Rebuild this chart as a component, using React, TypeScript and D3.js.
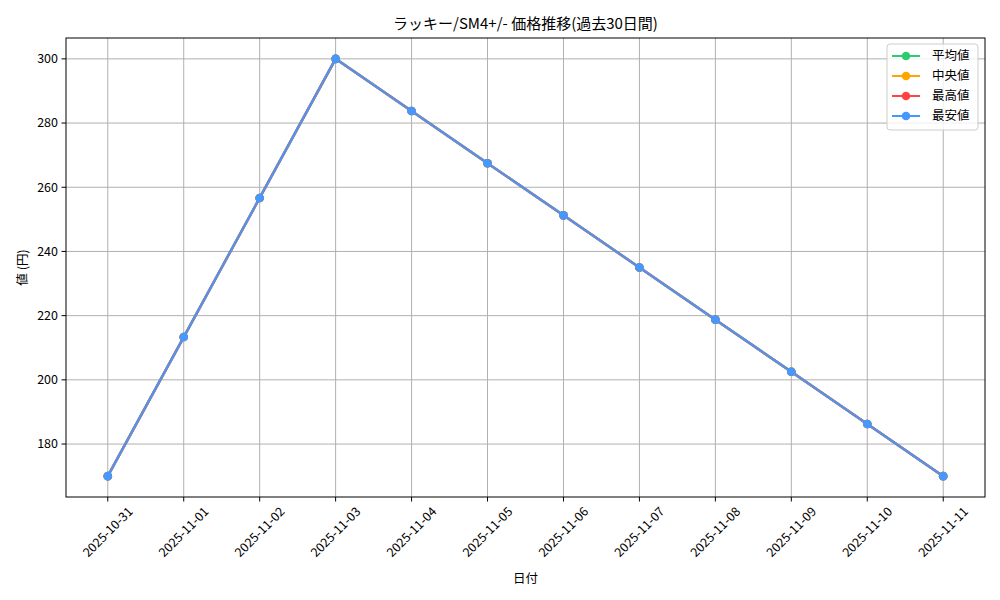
import React from 'react';
import * as d3 from 'd3';

const dates = [
  '2025-10-31', '2025-11-01', '2025-11-02', '2025-11-03', '2025-11-04', '2025-11-05',
  '2025-11-06', '2025-11-07', '2025-11-08', '2025-11-09', '2025-11-10', '2025-11-11',
];
const avgPrices = [170, 213.33, 256.67, 300, 283.75, 267.5, 251.25, 235, 218.75, 202.5, 186.25, 170];
const medianPrices = [170, 213.33, 256.67, 300, 283.75, 267.5, 251.25, 235, 218.75, 202.5, 186.25, 170];
const maxPrices = [170, 213.33, 256.67, 300, 283.75, 267.5, 251.25, 235, 218.75, 202.5, 186.25, 170];
const minPrices = [170, 213.33, 256.67, 300, 283.75, 267.5, 251.25, 235, 218.75, 202.5, 186.25, 170];
const seriesNames = ['平均値', '中央値', '最高値', '最安値'];
const seriesColors = ['#2ecc71', '#ffa500', '#ff4444', '#4499ff'];
const yTicks = [180, 200, 220, 240, 260, 280, 300];

const W = 1000;
const H = 600;
const margin = { top: 38, right: 15, bottom: 103, left: 66 };
const font = '"Noto Sans CJK JP", "DejaVu Sans", sans-serif';

export default function App() {
  const series = [avgPrices, medianPrices, maxPrices, minPrices];
  const all = series.flat();
  const lo = d3.min(all)!;
  const hi = d3.max(all)!;
  const pad = (hi - lo) * 0.05;
  const n = dates.length;

  const x = d3.scaleLinear()
    .domain([-0.55, n - 1 + 0.55])
    .range([margin.left, W - margin.right]);
  const y = d3.scaleLinear()
    .domain([lo - pad, hi + pad])
    .range([H - margin.bottom, margin.top]);

  const line = d3.line<number>()
    .x((_, i) => x(i))
    .y(d => y(d));

  const left = margin.left;
  const right = W - margin.right;
  const top = margin.top;
  const bottom = H - margin.bottom;

  return (
    <svg width={W} height={H} style={{ position: 'absolute', left: 0, top: 0, background: '#fff' }} fontFamily={font}>
      {/* grid */}
      {dates.map((_, i) => (
        <line key={'gx' + i} x1={x(i)} x2={x(i)} y1={top} y2={bottom} stroke="#b0b0b0" strokeWidth={1} />
      ))}
      {yTicks.map(t => (
        <line key={'gy' + t} x1={left} x2={right} y1={y(t)} y2={y(t)} stroke="#b0b0b0" strokeWidth={1} />
      ))}

      {/* series */}
      {series.map((vals, s) => (
        <g key={'s' + s}>
          <path d={line(vals)!} fill="none" stroke={seriesColors[s]} strokeWidth={2.4} strokeOpacity={0.9} />
          {vals.map((v, i) => (
            <circle key={i} cx={x(i)} cy={y(v)} r={4.3} fill={seriesColors[s]} />
          ))}
        </g>
      ))}

      {/* frame */}
      <rect x={left} y={top} width={right - left} height={bottom - top} fill="none" stroke="#000" strokeWidth={1} />

      {/* y ticks */}
      {yTicks.map(t => (
        <g key={'yt' + t} transform={`translate(${left},${y(t)})`}>
          <line x1={-4.5} x2={0} stroke="#000" />
          <text x={-8} dy="0.35em" textAnchor="end" fontSize={12.5} fill="#000">{t}</text>
        </g>
      ))}

      {/* x ticks */}
      {dates.map((d, i) => (
        <g key={'xt' + d} transform={`translate(${x(i)},${bottom})`}>
          <line y1={0} y2={4.5} stroke="#000" />
          <text transform="translate(0,35) rotate(-45)" textAnchor="middle" dy="0.35em" fontSize={12.5} fill="#000">{d}</text>
        </g>
      ))}

      {/* labels */}
      <text x={(left + right) / 2} y={29} textAnchor="middle" fontSize={15} fill="#000">ラッキー/SM4+/- 価格推移(過去30日間)</text>
      <text x={(left + right) / 2} y={583} textAnchor="middle" fontSize={12.5} fill="#000">日付</text>
      <text transform={`translate(27,${(top + bottom) / 2}) rotate(-90)`} textAnchor="middle" fontSize={12.5} fill="#000">値 (円)</text>

      {/* legend */}
      <g transform="translate(887,44)">
        <rect x={0} y={0} width={91} height={86} rx={3} fill="#fff" fillOpacity={0.8} stroke="#cccccc" />
        {seriesNames.map((name, i) => (
          <g key={name} transform={`translate(0,${12 + i * 20})`}>
            <line x1={5} x2={33} stroke={seriesColors[i]} strokeWidth={2} />
            <circle cx={19} cy={0} r={4.3} fill={seriesColors[i]} />
            <text x={45} dy="0.35em" fontSize={12.5} fill="#000">{name}</text>
          </g>
        ))}
      </g>
    </svg>
  );
}
